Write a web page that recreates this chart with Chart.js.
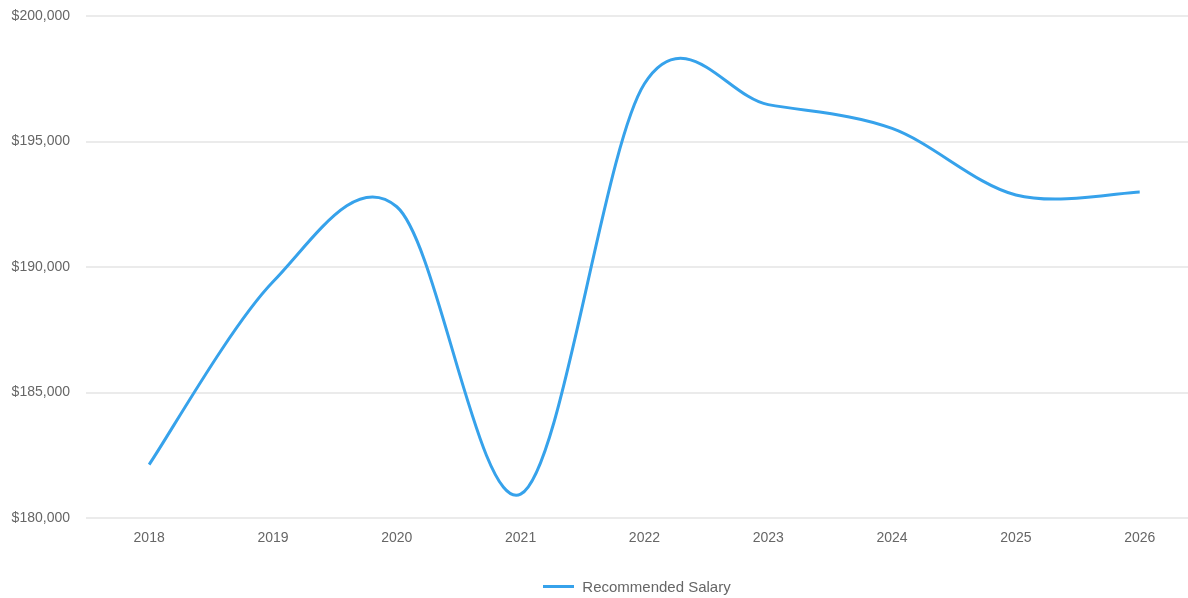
<!DOCTYPE html>
<html>
<head>
<meta charset="utf-8">
<script src="https://cdn.jsdelivr.net/npm/chart.js@4"></script>
<style>
  html, body { margin: 0; padding: 0; background: #fff; overflow: hidden; }
  #wrap { position: relative; width: 1188px; height: 598px; }
  #legend {
    position: absolute; top: 577px; height: 18px;
    display: flex; justify-content: center; align-items: center;
    font: 15px "Liberation Sans", Arial, sans-serif; color: #666;
  }
  #legend .swatch { width: 31px; height: 3px; margin-right: 8px; }
</style>
</head>
<body>
<div id="wrap">
  <canvas id="salary-chart" width="1188" height="598"></canvas>
  <div id="legend"></div>
</div>
<script>
// years on the x axis
const years = [2018, 2019, 2020, 2021, 2022, 2023, 2024, 2025, 2026];
// recommended salary per year
const salary = [182130, 189410, 192400, 180950, 197300, 196470, 195520, 192870, 192990];
// y axis range and step
const yTicks = [180000, 185000, 190000, 195000, 200000];

const lineColor = "rgb(54, 162, 235)";
const font = { family: "'Liberation Sans', Arial, sans-serif", size: 14 };

// smooth the line with a uniform Catmull-Rom spline instead of the built-in tension
const catmullRom = {
  id: "catmullRom",
  beforeDatasetDraw(chart, args) {
    const meta = args.meta;
    meta.dataset.updateControlPoints(chart.chartArea, "x");
    const pts = meta.data;
    pts.forEach((p, i) => {
      const prev = pts[Math.max(i - 1, 0)];
      const next = pts[Math.min(i + 1, pts.length - 1)];
      const dx = (next.x - prev.x) / 6;
      const dy = (next.y - prev.y) / 6;
      p.cp1x = p.x - dx;
      p.cp1y = p.y - dy;
      p.cp2x = p.x + dx;
      p.cp2y = p.y + dy;
    });
  },
};

const ctx = document.getElementById("salary-chart");
const chart = new Chart(ctx, {
  type: "line",
  plugins: [catmullRom],
  data: {
    datasets: [
      {
        label: "Recommended Salary",
        data: years.map((y, i) => ({ x: y, y: salary[i] })),
        borderColor: lineColor,
        backgroundColor: lineColor,
        borderWidth: 3,
        tension: 0.4,
        pointRadius: 0,
        fill: false,
      },
    ],
  },
  options: {
    responsive: false,
    animation: false,
    layout: { padding: { top: 16, left: 10, right: 0, bottom: 52 } },
    plugins: {
      legend: { display: false },
      tooltip: { enabled: false },
    },
    scales: {
      x: {
        type: "linear",
        min: 2017.49,
        max: 2026.39,
        afterBuildTicks: (axis) => {
          axis.ticks = years.map((v) => ({ value: v }));
        },
        afterFit: (axis) => {
          axis.height = 28;
          axis.paddingLeft = 0;
          axis.paddingRight = 0;
        },
        grid: { display: false, drawTicks: false },
        border: { display: false },
        ticks: {
          color: "#666",
          font: font,
          padding: 12,
          maxRotation: 0,
          callback: (v) => String(v),
        },
      },
      y: {
        min: yTicks[0],
        max: yTicks[yTicks.length - 1],
        afterFit: (axis) => {
          axis.width = 76;
          axis.paddingTop = 0;
          axis.paddingBottom = 0;
        },
        ticks: {
          stepSize: 5000,
          color: "#666",
          font: font,
          padding: 16,
          callback: (v) => "$" + v.toLocaleString("en-US"),
        },
        grid: { color: "#ebebeb", lineWidth: 2, drawTicks: false },
        border: { display: false },
      },
    },
  },
});

// legend centred under the plot area
const legend = document.getElementById("legend");
const area = chart.chartArea;
legend.style.left = area.left + "px";
legend.style.width = (area.right - area.left) + "px";
chart.data.datasets.forEach((ds) => {
  const sw = document.createElement("span");
  sw.className = "swatch";
  sw.style.background = ds.borderColor;
  const txt = document.createElement("span");
  txt.textContent = ds.label;
  legend.appendChild(sw);
  legend.appendChild(txt);
});
</script>
</body>
</html>
